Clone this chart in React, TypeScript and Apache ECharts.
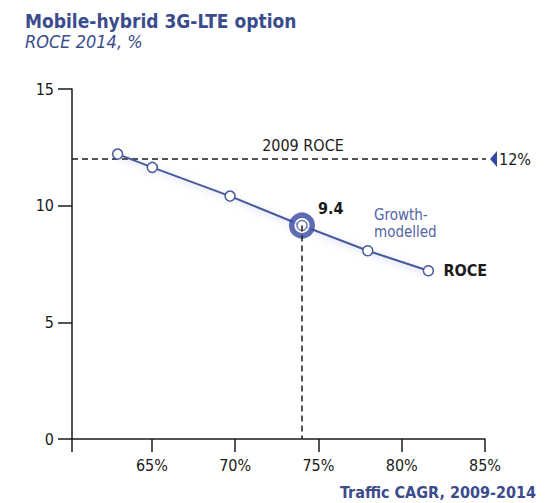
import React, { useEffect, useRef } from "react";
import * as echarts from "echarts";

// ---- data ----
const TRAFFIC_CAGR = [62.94, 65.02, 69.69, 74.01, 77.96, 81.6];
const ROCE_2014 = [12.21, 11.64, 10.41, 9.15, 8.07, 7.21];
const HIGHLIGHT_INDEX = 3;
const HIGHLIGHT_LABEL = "9.4";
const ROCE_2009 = 12;
const ROCE_2009_LABEL = "12%";
const X_TICKS = [65, 70, 75, 80, 85];
const Y_TICKS = [0, 5, 10, 15];
const X_MIN = 60.2;
const X_MAX = 85;

const TITLE = "Mobile-hybrid 3G-LTE option";
const SUBTITLE = "ROCE 2014, %";
const X_NAME = "Traffic CAGR, 2009-2014";
const GROWTH_LINES = ["Growth-", "modelled"];

const FONT = "'Liberation Sans Narrow', 'DejaVu Sans Condensed', 'Liberation Sans', sans-serif";
const BLUE = "#3b4c8c";
const LINE_BLUE = "#4a5a9c";
const TEXT = "#1b1b1b";

export default function App() {
  const ref = useRef<HTMLDivElement>(null);

  useEffect(() => {
    if (!ref.current) return;
    const chart = echarts.init(ref.current, undefined, { renderer: "svg" });
    const points = TRAFFIC_CAGR.map((x, i) => [x, ROCE_2014[i]]);
    const hp = points[HIGHLIGHT_INDEX];

    chart.setOption({
      animation: false,
      backgroundColor: "#ffffff",
      textStyle: { fontFamily: FONT },
      title: {
        left: 20,
        top: 6,
        text: TITLE,
        subtext: SUBTITLE,
        itemGap: 2,
        textStyle: { fontFamily: FONT, fontSize: 19, fontWeight: "bold", color: BLUE },
        subtextStyle: { fontFamily: FONT, fontSize: 18, fontStyle: "italic", color: BLUE },
      },
      grid: { left: 72, right: 68, top: 89, bottom: 64 },
      xAxis: {
        type: "value",
        min: X_MIN,
        max: X_MAX,
        splitLine: { show: false },
        axisLine: { lineStyle: { color: TEXT, width: 1.5 } },
        axisTick: { length: 13, customValues: [X_MIN, ...X_TICKS], lineStyle: { color: TEXT, width: 1.5 } },
        axisLabel: {
          customValues: X_TICKS,
          formatter: "{value}%",
          margin: 18,
          fontFamily: FONT,
          fontSize: 16,
          fontWeight: 500,
          color: TEXT,
        },
      },
      yAxis: {
        type: "value",
        min: 0,
        max: 15,
        interval: 5,
        splitLine: { show: false },
        axisLine: { show: true, lineStyle: { color: TEXT, width: 1.5 } },
        axisTick: { show: true, length: 14, lineStyle: { color: TEXT, width: 1.5 } },
        axisLabel: {
          customValues: Y_TICKS,
          margin: 18,
          fontFamily: FONT,
          fontSize: 16,
          fontWeight: 500,
          color: TEXT,
        },
      },
      series: [
        {
          type: "line",
          z: 2,
          data: points.map((p, i) =>
            i === HIGHLIGHT_INDEX ? { value: p, symbol: "none" } : { value: p }
          ),
          symbol: "circle",
          symbolSize: 10,
          lineStyle: { color: LINE_BLUE, width: 2, shadowBlur: 6, shadowColor: "rgba(90,110,190,0.35)", shadowOffsetY: 2 },
          itemStyle: { color: "#ffffff", borderColor: LINE_BLUE, borderWidth: 1.5 },
          markLine: {
            silent: true,
            symbol: "none",
            label: { show: false },
            lineStyle: { color: TEXT, type: [6, 4], width: 1.5 },
            data: [[{ coord: [hp[0], hp[1]] }, { coord: [hp[0], 0] }]],
          },
        },
        {
          type: "scatter",
          z: 3,
          data: [hp],
          symbol: "circle",
          symbolSize: 20.5,
          itemStyle: { color: "#ffffff", borderColor: "#3547a0", borderWidth: 5.5 },
        },
        {
          type: "scatter",
          z: 4,
          data: [hp],
          symbol: "circle",
          symbolSize: 10,
          itemStyle: { color: "#ffffff", borderColor: LINE_BLUE, borderWidth: 1.5 },
        },
      ],
    });

    const px = (x: number, y: number) => chart.convertToPixel({ gridIndex: 0 }, [x, y]) as number[];
    const left = px(X_MIN, ROCE_2009);
    const right = px(X_MAX, ROCE_2009);
    const lineEnd = right[0] + 1;
    const h = px(hp[0], hp[1]);
    const last = px(TRAFFIC_CAGR[TRAFFIC_CAGR.length - 1], ROCE_2014[ROCE_2014.length - 1]);

    chart.setOption({
      graphic: [
        {
          type: "line",
          z: 1,
          shape: { x1: left[0], y1: left[1], x2: lineEnd, y2: left[1] },
          style: { stroke: TEXT, lineWidth: 1.5, lineDash: [6, 4] },
        },
        {
          type: "polygon",
          shape: { points: [[lineEnd + 4, left[1]], [lineEnd + 11, left[1] - 8], [lineEnd + 11, left[1] + 8]] },
          style: { fill: "#3547a0" },
        },
        {
          type: "text",
          x: lineEnd + 13,
          y: left[1],
          style: { text: ROCE_2009_LABEL, fontFamily: FONT, fontSize: 16, fontWeight: 500, fill: TEXT, verticalAlign: "middle", align: "left" },
        },
        {
          type: "text",
          x: h[0] + 1,
          y: left[1] - 6,
          style: { text: "2009 ROCE", fontFamily: FONT, fontSize: 16, fontWeight: 500, fill: TEXT, verticalAlign: "bottom", align: "center" },
        },
        {
          type: "text",
          x: h[0] + 16,
          y: h[1] - 17,
          style: { text: HIGHLIGHT_LABEL, fontFamily: FONT, fontSize: 16, fontWeight: "bold", fill: TEXT, verticalAlign: "middle", align: "left" },
        },
        ...GROWTH_LINES.map((t, i) => ({
          type: "text",
          x: h[0] + 72,
          y: h[1] - 11 + i * 17,
          style: { text: t, fontFamily: FONT, fontSize: 15, fill: "#5364a4", verticalAlign: "middle", align: "left" },
        })),
        {
          type: "text",
          x: last[0] + 15,
          y: last[1],
          style: { text: "ROCE", fontFamily: FONT, fontSize: 16, fontWeight: "bold", fill: TEXT, verticalAlign: "middle", align: "left" },
        },
        {
          type: "text",
          right: 17,
          top: 484,
          style: { text: X_NAME, fontFamily: FONT, fontSize: 16, fontWeight: "bold", fill: BLUE },
        },
      ],
    });

    return () => chart.dispose();
  }, []);

  return <div ref={ref} style={{ position: "fixed", left: 0, top: 0, width: 553, height: 503 }} />;
}
